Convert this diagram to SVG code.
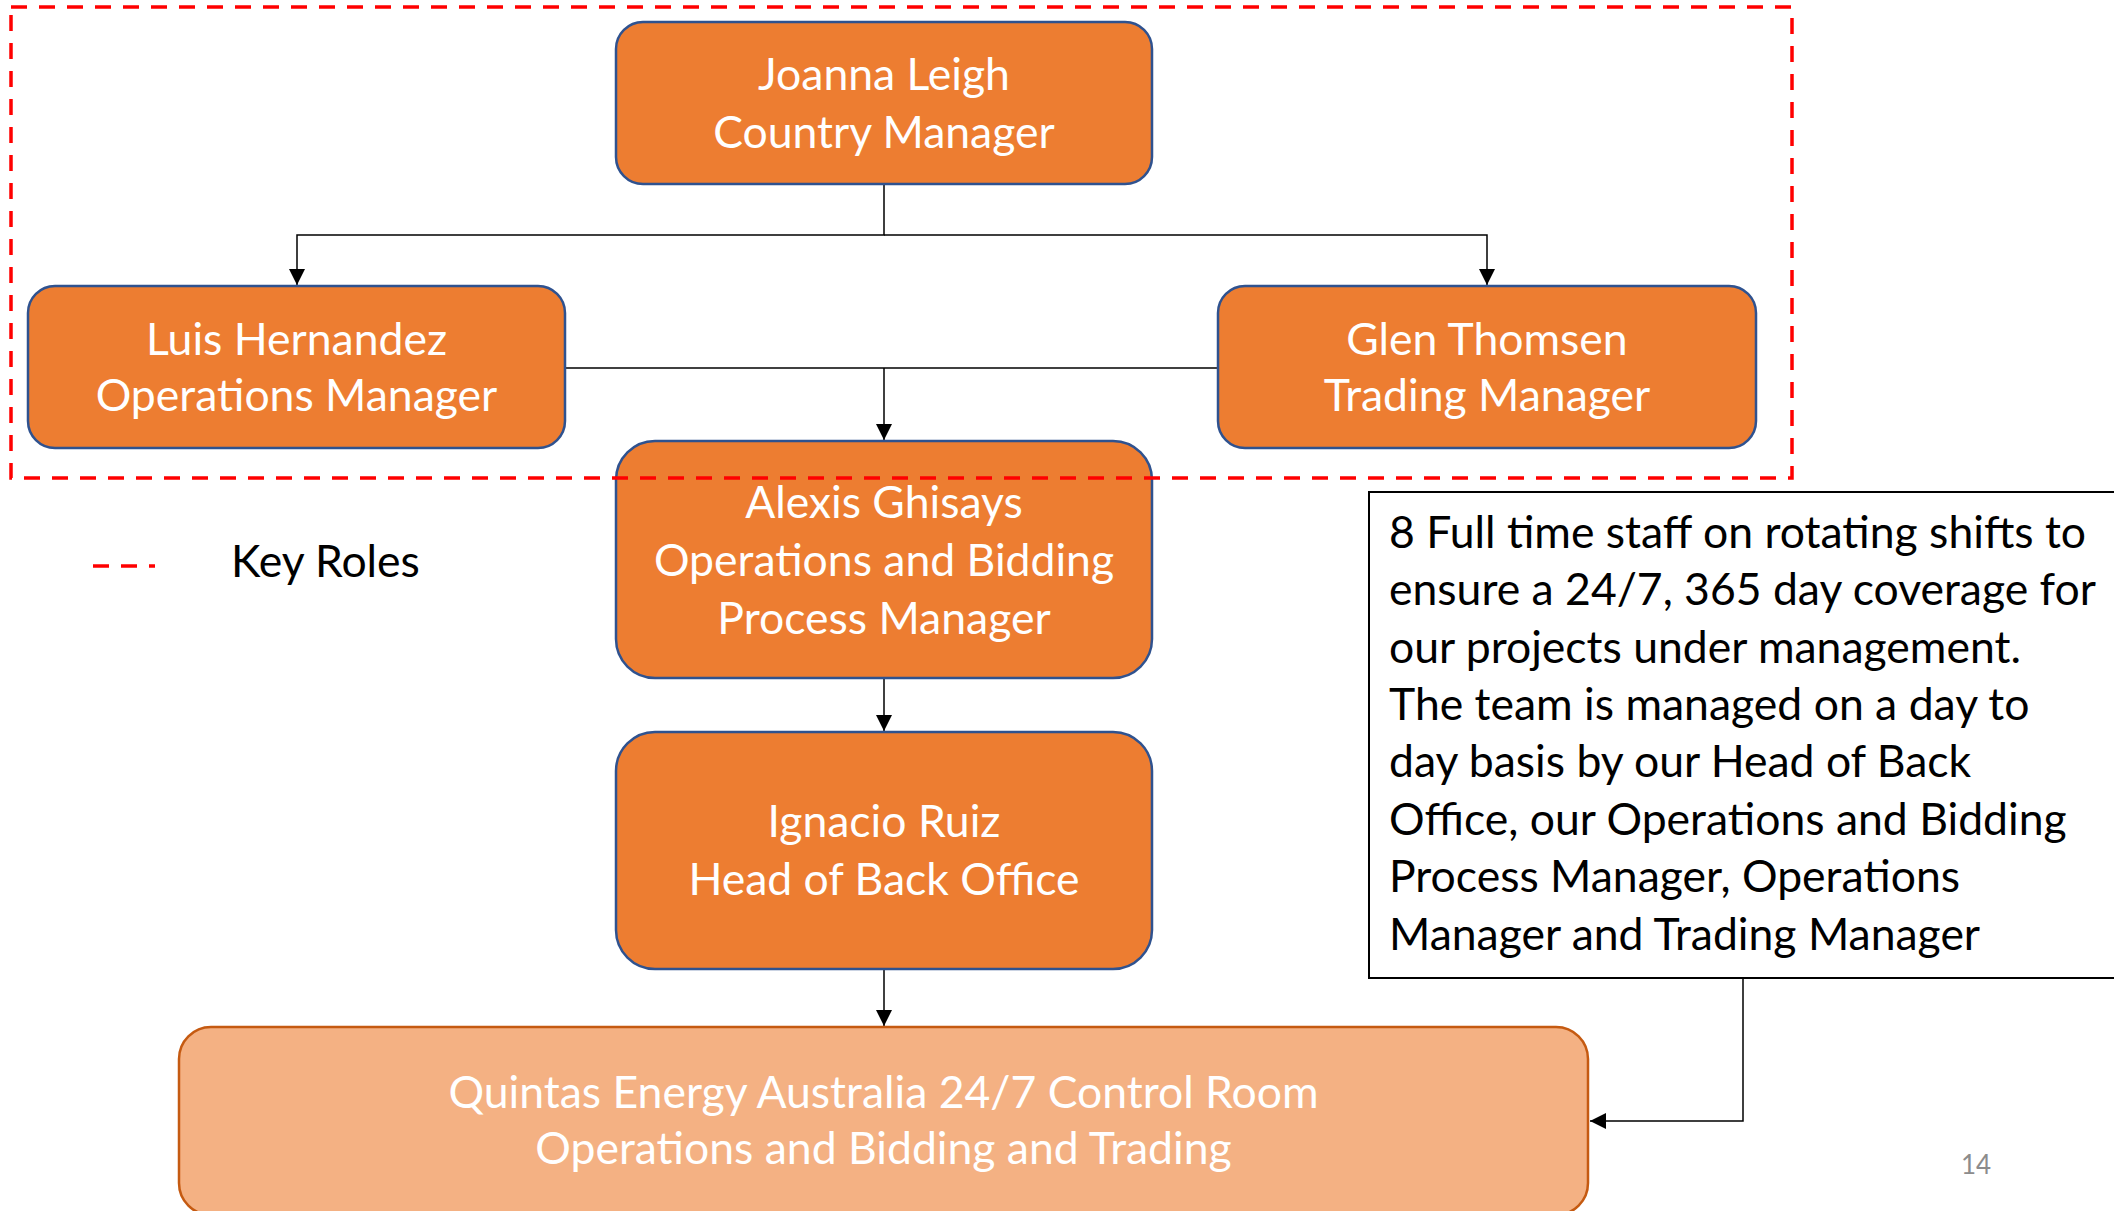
<svg xmlns="http://www.w3.org/2000/svg" width="2114" height="1211" viewBox="0 0 2114 1211">
<defs>
<style>
.node{fill:#ED7D31;stroke:#2F528F;stroke-width:2.5}
.ctl{fill:#F4B183;stroke:#C55A11;stroke-width:2.5}
.wt{font-family:Lato,"Liberation Sans",sans-serif;font-size:44.5px;fill:#FFFFFF;text-anchor:middle}
.bt{font-family:Lato,"Liberation Sans",sans-serif;font-size:44.5px;fill:#000000}
.conn{fill:none;stroke:#000000;stroke-width:1.5}
.key{fill:none;stroke:#FF0000;stroke-width:3.5;stroke-dasharray:16 12}
</style>
<marker id="arr" viewBox="0 0 16 16" refX="16" refY="8" markerWidth="16" markerHeight="16" markerUnits="userSpaceOnUse" orient="auto">
<path d="M0,0 L16,8 L0,16 Z" fill="#000000"/>
</marker>
</defs>
<rect width="2114" height="1211" fill="#FFFFFF"/>

<g id="connectors">
<path class="conn" d="M884,185 V235 H297 V285" marker-end="url(#arr)"/>
<path class="conn" d="M884,235 H1487 V285" marker-end="url(#arr)"/>
<path class="conn" d="M565,368 H1218"/>
<path class="conn" d="M884,368 V440" marker-end="url(#arr)"/>
<path class="conn" d="M884,678 V731" marker-end="url(#arr)"/>
<path class="conn" d="M884,969 V1026" marker-end="url(#arr)"/>
<path class="conn" d="M1743,978 V1121 H1590" marker-end="url(#arr)"/>
</g>

<g id="node-joanna">
<rect class="node" x="616" y="22" width="536" height="162" rx="27" ry="27"/>
<text class="wt" x="884" y="90">Joanna Leigh</text>
<text class="wt" x="884" y="148">Country Manager</text>
</g>

<g id="node-luis">
<rect class="node" x="28" y="286" width="537" height="162" rx="27" ry="27"/>
<text class="wt" x="296.5" y="355">Luis Hernandez</text>
<text class="wt" x="296.5" y="411">Operations Manager</text>
</g>

<g id="node-glen">
<rect class="node" x="1218" y="286" width="538" height="162" rx="27" ry="27"/>
<text class="wt" x="1487" y="355">Glen Thomsen</text>
<text class="wt" x="1487" y="411">Trading Manager</text>
</g>

<g id="node-alexis">
<rect class="node" x="616" y="441" width="536" height="237" rx="39" ry="39"/>
<text class="wt" x="884" y="517.5">Alexis Ghisays</text>
<text class="wt" x="884" y="575.5">Operations and Bidding</text>
<text class="wt" x="884" y="633.5">Process Manager</text>
</g>

<g id="node-ignacio">
<rect class="node" x="616" y="732" width="536" height="237" rx="39" ry="39"/>
<text class="wt" x="884" y="837">Ignacio Ruiz</text>
<text class="wt" x="884" y="895">Head of Back Office</text>
</g>

<g id="node-control-room">
<rect class="ctl" x="179" y="1027" width="1409" height="188" rx="32" ry="32"/>
<text class="wt" x="883.5" y="1108">Quintas Energy Australia 24/7 Control Room</text>
<text class="wt" x="883.5" y="1164">Operations and Bidding and Trading</text>
</g>

<g id="key-roles-box">
<rect class="key" x="11" y="7" width="1781" height="471" fill="none"/>
</g>

<g id="legend">
<line class="key" x1="93" y1="566" x2="155" y2="566"/>
<text class="bt" x="231" y="577">Key Roles</text>
</g>

<g id="note">
<rect x="1369" y="492" width="760" height="486" fill="#FFFFFF" stroke="#000000" stroke-width="2"/>
<text class="bt" x="1389" y="548">8 Full time staff on rotating shifts to</text>
<text class="bt" x="1389" y="605">ensure a 24/7, 365 day coverage for</text>
<text class="bt" x="1389" y="663">our projects under management.</text>
<text class="bt" x="1389" y="720">The team is managed on a day to</text>
<text class="bt" x="1389" y="777">day basis by our Head of Back</text>
<text class="bt" x="1389" y="835">Office, our Operations and Bidding</text>
<text class="bt" x="1389" y="892">Process Manager, Operations</text>
<text class="bt" x="1389" y="950">Manager and Trading Manager</text>
</g>

<text x="1976" y="1174" font-family="Lato,'Liberation Sans',sans-serif" font-size="26" fill="#8C8C8C" text-anchor="middle">14</text>
</svg>
